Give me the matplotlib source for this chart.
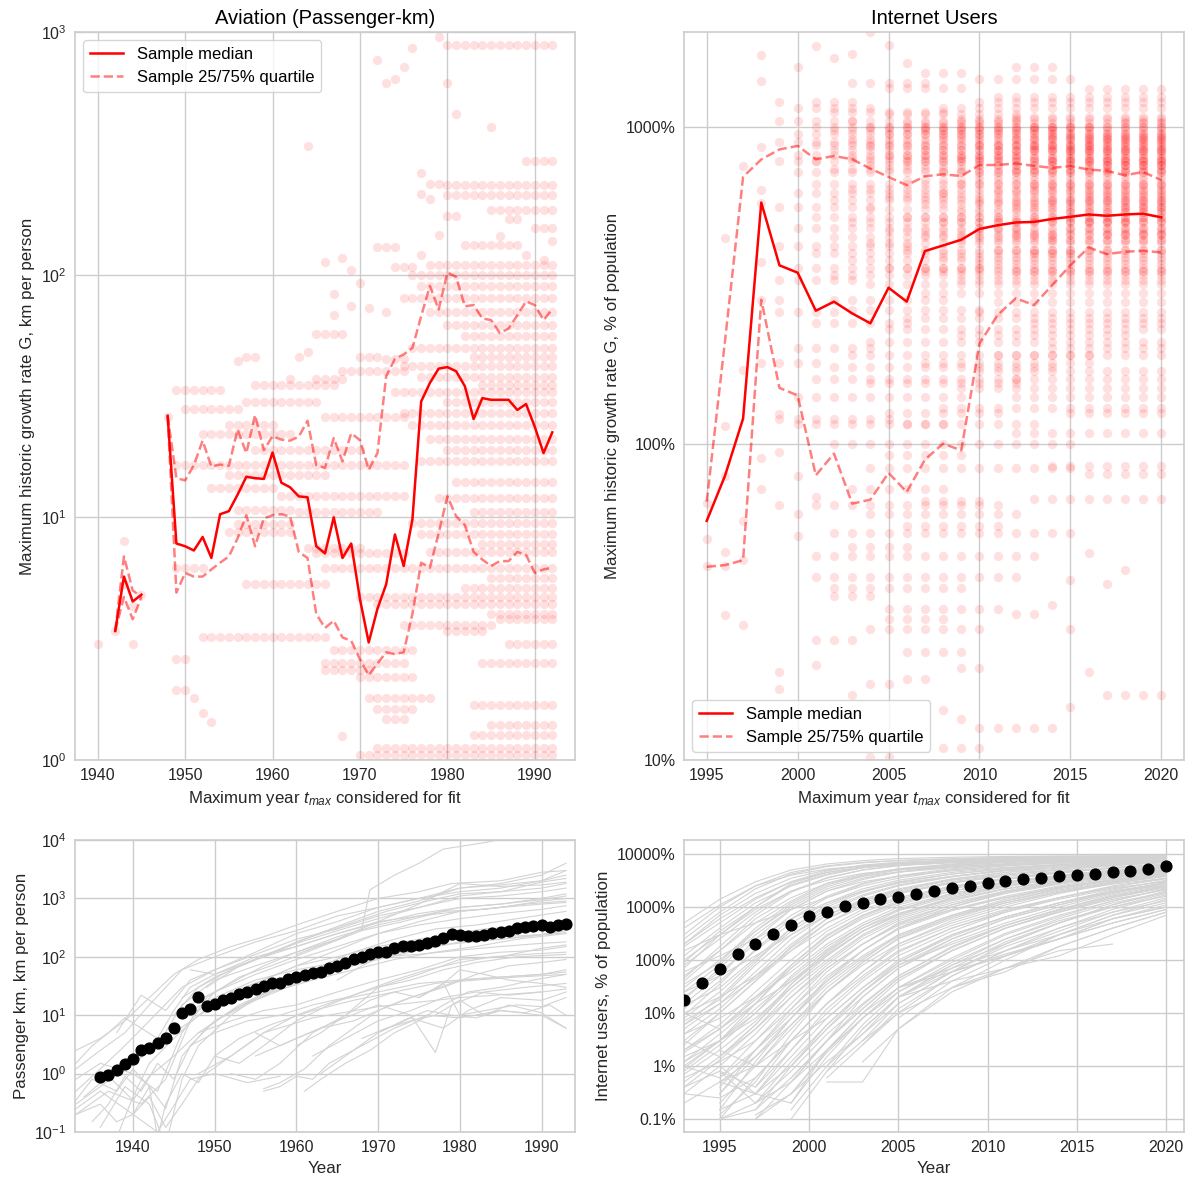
import numpy as np
import matplotlib
matplotlib.use("Agg")
import matplotlib.pyplot as plt
from matplotlib.ticker import FuncFormatter

nan = np.nan

# ---------------- top left: aviation, max growth rate vs t_max ----------------
av_years = list(range(1942, 1993))
av_median = [3.4, 5.7, 4.5, 4.8, nan, nan, 26.2, 7.8, 7.6, 7.3, 8.3, 6.8, 10.3, 10.6, 12.4, 14.7,
             14.5, 14.4, 18.5, 13.9, 13.3, 12.2, 12.1, 7.6, 7.1, 10.0, 6.8, 7.8, 4.6, 3.05, 4.2,
             5.3, 8.5, 6.3, 9.8, 30.0, 35.8, 41.0, 41.6, 40.0, 34.7, 25.4, 31.0, 30.5, 30.5, 30.5,
             27.7, 29.3, 23.6, 18.4, 22.4]
av_q75 = [3.4, 6.9, 5.0, 4.7, nan, nan, 26.2, 14.5, 14.2, 16.4, 20.7, 16.2, 16.5, 16.3, 23.0, 18.4,
          26.4, 18.9, 21.6, 20.9, 20.7, 21.5, 25.0, 16.4, 16.0, 21.2, 17.0, 22.2, 20.8, 15.7, 18.4,
          38.2, 45.0, 46.9, 49.9, 67.4, 90.0, 71.8, 102.0, 98.0, 74.0, 75.0, 66.0, 65.0, 57.5,
          60.0, 68.0, 77.6, 75.0, 65.0, 72.0]
av_q25 = [3.4, 4.7, 3.8, 4.7, nan, nan, 26.2, 4.9, 5.9, 5.7, 5.7, 6.1, 6.5, 6.9, 8.2, 10.2,
          7.6, 9.9, 10.2, 10.3, 10.1, 7.2, 6.8, 4.0, 3.5, 3.75, 3.2, 3.1, 2.6, 2.24, 2.5, 2.78,
          2.73, 2.78, 4.0, 6.5, 6.2, 8.6, 12.2, 10.1, 9.3, 7.2, 6.7, 6.3, 6.6, 6.6, 7.2, 7.0,
          5.9, 6.1, 6.2]

# runs of equal growth rate: (first t_max, last t_max, G)
av_tracks = [
    (1979, 1979, 950), (1980, 1992, 880), (1972, 1972, 770), (1973, 1973, 615), (1974, 1974, 640),
    (1975, 1975, 715), (1976, 1976, 860), (1980, 1980, 615), (1981, 1981, 460), (1985, 1985, 405),
    (1964, 1964, 340), (1977, 1977, 262), (1978, 1979, 236), (1980, 1992, 235), (1989, 1992, 295),
    (1977, 1977, 215), (1978, 1978, 205), (1980, 1992, 212), (1985, 1992, 185), (1987, 1988, 170),
    (1980, 1981, 175), (1990, 1992, 155), (1986, 1986, 145), (1972, 1974, 130), (1979, 1979, 146),
    (1982, 1988, 132), (1989, 1989, 120), (1991, 1991, 115), (1992, 1992, 138), (1966, 1966, 113),
    (1968, 1968, 117), (1969, 1969, 105), (1974, 1976, 108), (1977, 1977, 120), (1978, 1992, 110),
    (1967, 1967, 83), (1967, 1967, 68), (1970, 1970, 92), (1971, 1971, 73), (1969, 1969, 74),
    (1976, 1992, 100), (1977, 1992, 90), (1975, 1992, 80), (1973, 1973, 70), (1978, 1992, 70),
    (1980, 1992, 62), (1982, 1992, 56), (1976, 1992, 50), (1983, 1992, 46), (1975, 1992, 42),
    (1977, 1992, 38), (1984, 1992, 35), (1974, 1992, 33), (1980, 1992, 30),
    (1949, 1954, 33.5), (1956, 1956, 44), (1957, 1958, 46), (1962, 1962, 37), (1963, 1963, 46),
    (1964, 1964, 48), (1965, 1968, 57), (1965, 1968, 37), (1970, 1972, 46), (1973, 1975, 45),
    (1950, 1956, 28), (1955, 1960, 24), (1952, 1962, 22), (1958, 1970, 19), (1949, 1955, 16.4),
    (1956, 1975, 16.4), (1955, 1966, 15), (1953, 1960, 13.2), (1961, 1975, 12.2), (1956, 1962, 10.7),
    (1963, 1972, 10.5), (1956, 1962, 9.4), (1955, 1962, 8.7), (1964, 1970, 7.5), (1965, 1975, 7.1),
    (1957, 1965, 30), (1966, 1975, 26), (1958, 1967, 35), (1968, 1975, 40),
    (1949, 1952, 6.2), (1966, 1992, 6.2), (1957, 1966, 5.3), (1970, 1992, 4.7), (1972, 1992, 4.4),
    (1985, 1992, 4.0), (1980, 1984, 3.4), (1952, 1966, 3.2), (1940, 1940, 3.0), (1944, 1944, 3.0),
    (1967, 1976, 2.85), (1966, 1975, 2.5), (1984, 1992, 2.5), (1966, 1971, 2.35), (1970, 1976, 2.2),
    (1949, 1950, 2.6), (1949, 1950, 1.95), (1951, 1951, 1.8), (1952, 1952, 1.56), (1953, 1953, 1.44),
    (1971, 1978, 1.8), (1972, 1976, 1.63), (1973, 1975, 1.48), (1983, 1992, 1.69), (1985, 1992, 1.4),
    (1983, 1992, 1.27), (1972, 1992, 1.12), (1970, 1992, 1.05), (1968, 1968, 1.25), (1943, 1943, 8.0),
    (1943, 1943, 5.3), (1942, 1942, 3.4), (1945, 1945, 4.8), (1944, 1944, 4.3), (1948, 1948, 26),
    (1975, 1992, 27), (1976, 1992, 24), (1978, 1992, 21), (1980, 1992, 19), (1977, 1992, 17),
    (1981, 1992, 14), (1979, 1992, 12), (1983, 1992, 10.5), (1976, 1992, 9.5), (1977, 1992, 8.5),
    (1984, 1992, 7.8), (1978, 1992, 7.2), (1985, 1992, 5.6), (1982, 1992, 5.1), (1986, 1992, 3.8),
    (1987, 1992, 3.0), (1975, 1985, 3.6),
]

# ---------------- top right: internet users, max growth rate vs t_max ----------------
net_years = list(range(1995, 2021))
net_median = [57, 79, 120, 578, 366, 347, 263, 281, 258, 240, 311, 281, 406, 423, 441, 477, 490,
              500, 502, 513, 521, 530, 525, 530, 533, 519]
net_q75 = [65.5, 210, 697, 791, 851, 873, 792, 811, 792, 740, 696, 656, 700, 710, 701, 759, 760,
           768, 755, 744, 754, 735, 728, 705, 722, 681]
net_q25 = [40.8, 41.3, 42.8, 285, 150, 142, 79.4, 93, 64.6, 66.5, 80.8, 70.3, 89, 100, 95.2, 207,
           255, 288, 274, 317, 366, 417, 397, 404, 407, 402]

net_tracks = [
    # early years
    (1995, 1995, 65), (1995, 1995, 50), (1995, 1996, 41), (1996, 1996, 45.5), (1996, 1996, 28.7),
    (1996, 1996, 79), (1996, 1996, 114), (1996, 1996, 448), (1997, 1997, 57), (1997, 1997, 42.8),
    (1997, 1997, 26.8), (1997, 1997, 171), (1997, 1997, 755), (1998, 1998, 90), (1998, 1998, 72),
    (1998, 1998, 376), (1998, 1998, 578), (1998, 1998, 632), (1998, 1998, 867), (1998, 1999, 285),
    (1999, 1999, 124), (1999, 1999, 94), (1999, 1999, 64), (1999, 1999, 19), (1999, 1999, 16.8),
    (2000, 2000, 79), (2000, 2000, 60), (2000, 2000, 51), (2001, 2001, 68),
    # low band
    (2001, 2001, 20), (2004, 2005, 17.4), (2006, 2007, 18), (2009, 2010, 19.5), (2003, 2003, 16),
    (2004, 2005, 10.2), (2008, 2010, 10.9), (2010, 2014, 12.6), (2008, 2008, 14.4), (2009, 2009, 13.5),
    (2017, 2020, 16), (2016, 2016, 19), (2001, 2003, 24), (2004, 2010, 26), (2005, 2008, 28),
    (2005, 2011, 30), (2012, 2013, 29), (2001, 2012, 38), (2001, 2013, 44), (2002, 2015, 52),
    (2004, 2012, 60), (2001, 2011, 64), (2007, 2010, 66), (2013, 2020, 67), (2004, 2015, 84),
    (2014, 2020, 85), (2016, 2020, 80), (2002, 2015, 100), (2012, 2020, 108), (2000, 2008, 115),
    (2016, 2016, 45), (2017, 2017, 36), (2018, 2018, 40), (2015, 2015, 37), (2015, 2015, 26),
    (2015, 2015, 14.7), (2014, 2014, 31), (2003, 2006, 47), (2002, 2009, 35), (2006, 2009, 22),
    (2003, 2008, 72), (2005, 2009, 92), (2002, 2004, 33), (2006, 2011, 55),
    # 100 - 300
    (1999, 2005, 120), (2000, 2009, 140), (2001, 2012, 160), (2002, 2014, 175), (2003, 2016, 190),
    (2004, 2020, 210), (2005, 2020, 230), (2006, 2020, 250), (2003, 2010, 265), (2002, 2008, 285),
    (2007, 2020, 300), (2008, 2020, 130), (2009, 2020, 150), (2010, 2020, 170), (2011, 2020, 190),
    (2012, 2020, 140), (2006, 2013, 115), (2005, 2011, 125), (2000, 2004, 200), (2001, 2006, 240),
    (2004, 2012, 155), (2007, 2016, 180), (2009, 2018, 220), (2010, 2020, 260), (2011, 2020, 280),
    (2013, 2020, 240), (2014, 2020, 200), (2012, 2020, 160), (2015, 2020, 125), (1998, 2001, 180),
    (1999, 2002, 260),
    # 300 - 700
    (1999, 2003, 330), (1999, 2006, 420), (1999, 2004, 560), (2000, 2010, 360), (2000, 2012, 480),
    (2000, 2008, 620), (2001, 2015, 400), (2001, 2011, 520), (2001, 2020, 660), (2002, 2020, 340),
    (2002, 2014, 450), (2002, 2020, 590), (2003, 2020, 380), (2003, 2018, 500), (2003, 2020, 640),
    (2004, 2020, 320), (2004, 2020, 430), (2004, 2020, 550), (2005, 2020, 360), (2005, 2020, 470),
    (2005, 2020, 600), (2006, 2020, 410), (2006, 2020, 520), (2006, 2020, 680), (2007, 2020, 350),
    (2007, 2020, 455), (2007, 2020, 570), (2008, 2020, 390), (2008, 2020, 500), (2008, 2020, 620),
    (2009, 2020, 330), (2009, 2020, 440), (2009, 2020, 540), (2009, 2020, 660), (2010, 2020, 370),
    (2010, 2020, 480), (2010, 2020, 580), (2010, 2020, 700), (2011, 2020, 410), (2011, 2020, 510),
    (2011, 2020, 630), (2012, 2020, 350), (2012, 2020, 460), (2012, 2020, 560), (2013, 2020, 400),
    (2013, 2020, 520), (2013, 2020, 650), (2014, 2020, 440), (2014, 2020, 590), (2015, 2020, 480),
    (2015, 2020, 540), (2016, 2020, 500), (2016, 2020, 610), (2017, 2020, 460), (2018, 2020, 560),
    # 700 - 1300
    (1999, 2001, 780), (1999, 2005, 900), (1999, 2003, 1050), (1999, 1999, 1200), (2000, 2020, 720),
    (2000, 2012, 820), (2000, 2010, 950), (2000, 2004, 1150), (2001, 2020, 780), (2001, 2016, 880),
    (2001, 2009, 1000), (2001, 2003, 1200), (2002, 2020, 740), (2002, 2020, 850), (2002, 2014, 980),
    (2002, 2008, 1120), (2003, 2020, 800), (2003, 2020, 920), (2003, 2012, 1050), (2004, 2020, 760),
    (2004, 2020, 870), (2004, 2016, 1000), (2005, 2020, 820), (2005, 2020, 950), (2005, 2012, 1100),
    (2006, 2020, 780), (2006, 2020, 900), (2006, 2020, 1030), (2007, 2020, 850), (2007, 2020, 980),
    (2008, 2020, 720), (2008, 2020, 930), (2008, 2020, 1150), (2009, 2020, 800), (2009, 2020, 1060),
    (2010, 2020, 760), (2010, 2020, 880), (2010, 2020, 1000), (2010, 2020, 1200), (2011, 2020, 840),
    (2011, 2020, 960), (2012, 2020, 730), (2012, 2020, 920), (2012, 2020, 1080), (2013, 2020, 860),
    (2013, 2020, 1000), (2014, 2020, 780), (2014, 2020, 940), (2015, 2020, 830), (2016, 2020, 900),
    (2017, 2020, 760), (2018, 2020, 1040),
    # sparse top
    (1998, 1998, 1690), (1998, 1998, 1400), (2000, 2000, 1550), (2001, 2001, 1800), (2002, 2002, 1650),
    (2003, 2003, 1700), (2004, 2004, 2000), (2005, 2005, 1820), (2006, 2006, 1600), (2007, 2009, 1480),
    (2005, 2009, 1330), (2010, 2015, 1420), (2012, 2014, 1550), (2016, 2020, 1320), (2011, 2020, 1250),
    (2003, 2007, 1380),
]

# ---------------- bottom left: passenger km per person ----------------
av_med_years = list(range(1936, 1994))
av_med_vals = [0.88, 0.94, 1.17, 1.45, 1.8, 2.5, 2.7, 3.3, 4.0, 6.1, 11, 13, 20.6, 14.5, 15.8, 18,
               19.8, 22.9, 25.1, 28.6, 31.8, 34.9, 36.3, 40.9, 45.4, 47.9, 51.8, 55.3, 64.8, 70,
               78.9, 91.2, 100, 110, 119, 122, 139, 152, 152, 158, 169, 188, 212, 241, 235, 229,
               229, 235, 251, 265, 279, 306, 327, 336, 349, 327, 349, 358]

av_country_lines = [
    ([1933, 1936, 1939, 1942, 1945, 1948, 1952, 1956, 1960, 1965, 1970, 1975, 1979, 1985, 1990, 1993],
     [2.5, 4, 8, 20, 50, 90, 150, 220, 350, 600, 1000, 1300, 1800, 2000, 2800, 3000]),
    ([1933, 1936, 1939, 1942, 1946, 1950, 1955, 1960, 1965, 1970, 1975, 1980, 1985, 1990, 1993],
     [1.2, 2.5, 5, 15, 60, 100, 180, 280, 500, 700, 1000, 1500, 1700, 2000, 2500]),
    ([1933, 1936, 1939, 1942, 1946, 1950, 1955, 1960, 1965, 1970, 1975, 1980, 1985, 1990, 1993],
     [0.5, 1.2, 3, 8, 30, 60, 110, 200, 300, 500, 700, 1000, 1100, 1300, 1500]),
    ([1933, 1936, 1940, 1943, 1946, 1950, 1955, 1960, 1965, 1970, 1975, 1980, 1985, 1990, 1993],
     [0.3, 0.6, 1.5, 3, 15, 40, 70, 120, 220, 350, 500, 700, 800, 1000, 1200]),
    ([1933, 1936, 1940, 1943, 1946, 1949, 1953, 1958, 1963, 1968, 1973, 1978, 1983, 1988, 1993],
     [0.8, 1.5, 1, 0.5, 5, 20, 45, 80, 150, 280, 400, 600, 650, 800, 900]),
    ([1933, 1937, 1941, 1944, 1947, 1950, 1955, 1960, 1965, 1970, 1975, 1980, 1985, 1990, 1993],
     [0.2, 0.5, 0.3, 0.8, 8, 25, 50, 90, 150, 250, 350, 450, 550, 650, 750]),
    ([1936, 1939, 1942, 1944, 1946, 1948, 1952, 1957, 1962, 1967, 1972, 1977, 1982, 1987, 1993],
     [0.12, 0.6, 0.3, 0.06, 0.8, 3, 10, 30, 60, 120, 200, 300, 350, 450, 600]),
    ([1938, 1940, 1942, 1945, 1948, 1952, 1956, 1960, 1965, 1970, 1975, 1980, 1985, 1990, 1993],
     [0.08, 0.4, 1.5, 4, 10, 25, 40, 70, 100, 150, 200, 250, 280, 350, 400]),
    ([1934, 1937, 1940, 1942, 1945, 1948, 1952, 1956, 1960, 1965, 1970, 1975, 1980, 1985, 1990, 1993],
     [0.4, 0.9, 0.35, 0.9, 2, 5, 8, 12, 15, 25, 40, 60, 100, 120, 130, 150]),
    ([1933, 1936, 1940, 1943, 1947, 1950, 1954, 1958],
     [0.25, 0.5, 0.2, 0.1, 0.8, 1, 0.7, 0.9]),
    ([1956, 1958, 1961, 1964, 1967, 1970, 1974, 1978, 1982, 1986, 1990, 1993],
     [0.55, 0.7, 1.2, 3, 6, 12, 20, 30, 50, 70, 80, 90]),
    ([1961, 1963, 1966, 1969, 1972, 1975, 1978, 1981, 1985, 1989, 1993],
     [0.5, 0.8, 1.5, 2.5, 5, 8, 15, 25, 30, 40, 50]),
    ([1955, 1958, 1960, 1963, 1967, 1970, 1973, 1976, 1980, 1985, 1990, 1993],
     [5, 3, 4, 6, 8, 12, 18, 25, 40, 45, 50, 60]),
    ([1950, 1953, 1956, 1960, 1964, 1968, 1972, 1976, 1980, 1984, 1988, 1993],
     [2, 1.5, 3, 8, 15, 25, 40, 60, 80, 100, 110, 120]),
    ([1955, 1960, 1965, 1970, 1974, 1977, 1979, 1983, 1988, 1993],
     [2, 4, 8, 15, 10, 2.3, 15, 25, 30, 35]),
    ([1948, 1952, 1956, 1960, 1965, 1970, 1975, 1980, 1985, 1990, 1993],
     [1, 2, 5, 10, 18, 25, 35, 40, 45, 50, 55]),
    ([1947, 1950, 1954, 1958, 1962, 1966, 1970, 1974, 1978, 1982, 1987, 1993],
     [3, 5, 8, 10, 15, 20, 30, 40, 60, 80, 100, 110]),
    ([1960, 1963, 1966, 1969, 1972, 1975, 1978, 1980, 1983, 1987, 1990, 1993],
     [3, 5, 10, 18, 25, 20, 35, 10, 12, 15, 14, 20]),
    ([1968, 1971, 1974, 1977, 1980, 1983, 1986, 1990, 1993],
     [4, 6, 8, 10, 18, 10, 15, 11, 6]),
    ([1962, 1966, 1970, 1974, 1978, 1982, 1986, 1990, 1993],
     [2, 4, 8, 12, 20, 25, 22, 25, 28]),
    ([1946, 1950, 1955, 1960, 1965, 1970, 1975, 1980, 1985, 1990, 1993],
     [10, 20, 40, 60, 80, 100, 110, 130, 150, 170, 180]),
    ([1948, 1952, 1957, 1962, 1967, 1972, 1977, 1982, 1987, 1993],
     [5, 12, 25, 40, 60, 90, 120, 150, 200, 250]),
    ([1950, 1955, 1960, 1965, 1970, 1975, 1980, 1985, 1990, 1993],
     [8, 20, 45, 80, 120, 160, 200, 220, 240, 300]),
    ([1945, 1948, 1952, 1956, 1960, 1965, 1970, 1975, 1980, 1985, 1990, 1993],
     [10, 30, 60, 100, 180, 330, 600, 900, 1500, 1800, 2500, 4000]),
    ([1946, 1950, 1955, 1960, 1965, 1970, 1975, 1980, 1985, 1990, 1993],
     [20, 45, 90, 170, 280, 450, 700, 1100, 1300, 1900, 2200]),
    ([1947, 1951, 1956, 1960, 1965, 1970, 1975, 1980, 1985, 1990, 1993],
     [15, 30, 70, 120, 200, 400, 800, 1800, 1600, 1700, 1900]),
    ([1949, 1953, 1957, 1961, 1966, 1971, 1976, 1980, 1985, 1990, 1993],
     [30, 70, 120, 200, 350, 600, 900, 1200, 1300, 1500, 1800]),
    ([1945, 1950, 1955, 1960, 1965, 1970, 1975, 1980, 1985, 1990, 1993],
     [5, 15, 35, 70, 130, 250, 400, 600, 700, 900, 1000]),
    ([1938, 1941, 1944, 1947, 1950, 1955, 1960, 1965, 1970, 1975, 1980, 1985, 1990, 1993],
     [5, 22, 12, 40, 60, 120, 250, 400, 700, 1000, 1300, 1500, 2000, 3000]),
    ([1947, 1950, 1955, 1960, 1965, 1970, 1975, 1980, 1985, 1990, 1993],
     [60, 50, 100, 150, 250, 400, 500, 600, 700, 800, 850]),
    ([1960, 1965, 1968, 1969, 1972, 1975, 1978, 1983, 1986],
     [110, 200, 300, 1400, 2500, 4000, 7000, 9000, 11000]),
    ([1956, 1958, 1960, 1962, 1964, 1968, 1972, 1976, 1980, 1985, 1990, 1993],
     [0.5, 0.6, 0.9, 0.8, 1.5, 3, 6, 10, 9, 12, 10, 6]),
    ([1963, 1966, 1970, 1974, 1978, 1981, 1985, 1990, 1993],
     [1, 2, 5, 9, 6, 12, 20, 18, 25]),
    ([1952, 1955, 1958, 1962, 1966, 1970, 1975, 1980, 1985, 1990, 1993],
     [1, 0.8, 1.5, 5, 10, 30, 50, 90, 100, 140, 160]),
    ([1933, 1935, 1937, 1939, 1941, 1943, 1945, 1947, 1950, 1955, 1960, 1965, 1970, 1975, 1980, 1985, 1990, 1993],
     [1.5, 3, 5, 9, 6, 4, 12, 30, 50, 90, 150, 250, 380, 550, 700, 800, 950, 1100]),
    ([1933, 1935, 1938, 1940, 1942, 1944, 1946, 1949, 1953, 1958, 1963, 1968, 1973, 1978, 1983, 1988, 1993],
     [0.35, 0.8, 0.5, 1.2, 0.6, 0.25, 2, 6, 15, 30, 50, 80, 120, 160, 190, 220, 260]),
    ([1935, 1937, 1939, 1941, 1943, 1945, 1947, 1950, 1955, 1960, 1965, 1970, 1975, 1980, 1985, 1990, 1993],
     [0.15, 0.3, 0.9, 0.5, 1.5, 0.8, 3, 8, 18, 35, 60, 90, 130, 180, 200, 240, 280]),
    ([1933, 1936, 1938, 1940, 1942, 1944, 1946, 1948, 1952, 1956, 1962, 1970, 1980, 1990],
     [0.2, 0.3, 0.15, 0.2, 0.4, 0.12, 0.3, 0.8, 2, 5, 9, 14, 20, 25]),
    ([1940, 1942, 1943, 1944, 1946, 1948, 1950, 1953, 1957, 1962, 1967, 1972, 1977, 1982, 1987, 1993],
     [0.2, 0.6, 0.08, 0.3, 1, 0.7, 2, 4, 7, 12, 18, 25, 35, 40, 45, 50]),
    ([1965, 1968, 1971, 1974, 1977, 1980, 1983, 1986, 1990, 1993],
     [40, 70, 110, 150, 200, 260, 300, 320, 350, 380]),
    ([1975, 1978, 1980, 1983, 1986, 1990, 1993],
     [20, 35, 60, 50, 40, 35, 30]),
    ([1970, 1973, 1976, 1979, 1982, 1985, 1988, 1991, 1993],
     [5, 8, 12, 10, 9, 12, 11, 15, 10]),
]

# ---------------- bottom right: internet users ----------------
net_med_years = list(range(1993, 2021))
net_med_vals = [17.9, 36.3, 68.6, 131, 200, 310, 458, 666, 817, 1045, 1208, 1397, 1546, 1734, 2033,
                2250, 2528, 2838, 3140, 3326, 3524, 3791, 3955, 4256, 4510, 4779, 5210, 5940]

net_line_years = [1993, 1995, 1997, 1999, 2001, 2003, 2005, 2008, 2011, 2014, 2017, 2020]
net_country_lines = [
    [300, 1000, 2500, 4500, 6000, 7000, 7500, 8000, 8500, 8800, 9000, 9200],
    [200, 700, 1800, 3500, 5000, 6000, 6800, 7500, 8000, 8500, 8800, 9000],
    [120, 400, 1200, 2500, 4000, 5500, 6500, 7200, 7800, 8200, 8600, 8900],
    [80, 250, 800, 2000, 3500, 5000, 6000, 7000, 7600, 8000, 8400, 8800],
    [50, 150, 500, 1300, 2800, 4200, 5200, 6300, 7000, 7600, 8100, 8500],
    [30, 100, 350, 1000, 2200, 3500, 4500, 5800, 6600, 7300, 7800, 8300],
    [20, 60, 200, 700, 1600, 2800, 3800, 5000, 6000, 6800, 7500, 8000],
    [12, 40, 150, 500, 1200, 2200, 3200, 4500, 5500, 6400, 7200, 7800],
    [8, 25, 100, 350, 900, 1700, 2600, 3800, 5000, 6000, 6800, 7500],
    [5, 15, 60, 250, 700, 1400, 2200, 3400, 4500, 5500, 6500, 7200],
    [3, 10, 40, 150, 500, 1000, 1800, 2800, 4000, 5000, 6000, 7000],
    [2, 6, 25, 100, 350, 800, 1400, 2400, 3500, 4500, 5500, 6500],
    [1.2, 4, 15, 70, 250, 600, 1100, 2000, 3000, 4000, 5000, 6000],
    [0.8, 2.5, 10, 50, 180, 450, 900, 1700, 2600, 3600, 4600, 5600],
    [0.5, 1.5, 6, 30, 120, 350, 700, 1400, 2200, 3200, 4200, 5200],
    [0.3, 1, 4, 20, 80, 250, 550, 1100, 1900, 2800, 3800, 4800],
    [150, 300, 500, 900, 1500, 2500, 3500, 5000, 6000, 6800, 7500, 8000],
    [60, 120, 250, 600, 1200, 2000, 3000, 4200, 5200, 6000, 6800, 7400],
    [25, 50, 120, 300, 700, 1300, 2000, 3200, 4200, 5200, 6200, 7000],
    [10, 20, 50, 150, 400, 900, 1500, 2500, 3500, 4500, 5500, 6200],
    [4, 8, 20, 60, 200, 500, 1000, 1800, 2800, 3800, 4800, 5800],
    [1.5, 3, 8, 30, 100, 300, 650, 1300, 2200, 3200, 4200, 5000],
    [0.6, 1.2, 3, 12, 50, 150, 400, 900, 1600, 2500, 3500, 4500],
    [nan, 0.4, 2, 10, 40, 120, 300, 700, 1300, 2200, 3200, 4200],
    [nan, 0.2, 1, 5, 25, 80, 200, 500, 1000, 1800, 2800, 3800],
    [nan, 0.1, 0.6, 3, 15, 50, 150, 400, 800, 1500, 2500, 3500],
    [nan, 0.15, 0.3, 1.5, 8, 30, 100, 300, 650, 1200, 2100, 3200],
    [nan, nan, 0.15, 1, 5, 20, 70, 220, 500, 1000, 1800, 2800],
    [nan, nan, 0.1, 0.5, 3, 12, 45, 150, 400, 800, 1500, 2500],
    [nan, nan, nan, 0.2, 1.5, 8, 30, 100, 300, 650, 1300, 2200],
    [nan, nan, nan, 0.1, 0.8, 5, 20, 70, 220, 500, 1100, 2000],
    [nan, nan, nan, nan, 0.6, 2.5, 12, 50, 150, 400, 900, 1700],
    [nan, nan, nan, nan, nan, 2.5, 10, 30, 100, 300, 700, 1400],
    [nan, nan, nan, nan, 0.5, 0.5, 5, 25, 70, nan, nan, nan],
    [nan, nan, nan, nan, nan, nan, 20, 40, 70, 150, 200, nan],
    [nan, 1, 0.3, 0.2, 2, 10, 30, 60, 120, 250, 600, 1000],
    [nan, 0.5, 0.3, 1, 5, 25, 80, 200, 450, 900, 1600, 2400],
    [0.4, 0.8, 0.2, 0.5, 2, 8, 25, 80, 200, 500, 1000, 1800],
    [nan, 0.1, 0.2, 0.8, 4, 15, 50, 180, 450, 900, 1700, 2600],
    [nan, nan, 0.1, 0.3, 1.2, 4, 15, 60, 200, 500, 1100, 1900],
    [200, 600, 1500, 3000, 4500, 5500, 6200, 6800, 7200, 7500, 7800, 8000],
    [100, 300, 900, 2000, 3200, 4300, 5000, 5800, 6400, 6900, 7300, 7600],
    [40, 150, 600, 1500, 2800, 3800, 4600, 5500, 6200, 6800, 7300, 7700],
    [15, 50, 250, 900, 2000, 3000, 3800, 4800, 5600, 6300, 6900, 7400],
    [6, 20, 90, 400, 1100, 2000, 2800, 3800, 4800, 5600, 6300, 6900],
    [2.5, 10, 40, 180, 600, 1200, 1900, 2900, 3800, 4700, 5600, 6300],
    [1, 3, 15, 80, 300, 700, 1200, 2000, 2900, 3800, 4700, 5500],
    [nan, 1.5, 6, 35, 150, 400, 750, 1400, 2200, 3000, 3900, 4800],
    [nan, 0.6, 3, 15, 70, 200, 450, 900, 1500, 2300, 3100, 4000],
    [nan, 0.3, 1.5, 8, 35, 110, 280, 650, 1200, 1900, 2700, 3500],
    [nan, nan, 0.4, 3, 15, 60, 180, 450, 900, 1500, 2300, 3000],
    [nan, nan, nan, 1, 6, 25, 90, 300, 650, 1200, 1900, 2600],
    [nan, nan, nan, 0.5, 3, 12, 45, 150, 400, 800, 1400, 2100],
    [nan, nan, nan, nan, 1, 6, 25, 90, 250, 550, 1000, 1600],
    [nan, nan, nan, nan, nan, 3, 15, 60, 180, 400, 800, 1300],
    [nan, nan, nan, nan, nan, nan, 8, 40, 120, 300, 600, 1000],
    [nan, nan, nan, nan, nan, nan, nan, 30, 60, 180, 400, 800],
    [nan, nan, nan, nan, nan, nan, nan, nan, 70, 120, 300, 700],
    [nan, nan, nan, nan, nan, 1.2, 5, 30, 70, 180, 400, 800],
    [250, 800, 2200, 4200, 5800, 6800, 7600, 8200, 8700, 9000, 9100, 9300],
    [180, 500, 1400, 3000, 4800, 6200, 7000, 7700, 8200, 8600, 8900, 9100],
    [90, 350, 1000, 2600, 4200, 5600, 6600, 7400, 8000, 8400, 8700, 9000],
    [45, 180, 700, 1900, 3600, 5000, 6100, 7000, 7700, 8100, 8500, 8800],
    [35, 90, 400, 1200, 2600, 4000, 5300, 6500, 7300, 7900, 8300, 8700],
    [18, 70, 300, 900, 2000, 3300, 4600, 6000, 7000, 7700, 8200, 8600],
    [9, 35, 160, 600, 1500, 2700, 3900, 5300, 6400, 7200, 7800, 8300],
    [7, 18, 80, 300, 800, 1600, 2500, 3700, 4900, 6000, 7000, 7800],
    [4, 12, 50, 200, 600, 1300, 2100, 3300, 4500, 5600, 6600, 7400],
    [2, 5, 18, 70, 250, 650, 1200, 2200, 3300, 4400, 5400, 6300],
    [1.2, 3, 12, 45, 160, 450, 900, 1800, 2800, 3900, 4900, 5900],
    [0.7, 2, 7, 35, 130, 350, 750, 1500, 2500, 3500, 4500, 5400],
    [0.4, 1.3, 5, 25, 90, 280, 600, 1200, 2000, 3000, 4000, 5000],
    [nan, 0.3, 2, 12, 60, 200, 480, 1000, 1800, 2700, 3600, 4600],
    [nan, 0.15, 1.2, 8, 45, 150, 380, 850, 1500, 2400, 3300, 4300],
    [nan, 0.12, 0.5, 4, 25, 90, 250, 600, 1200, 2000, 2900, 3900],
    [nan, nan, 0.3, 2, 12, 45, 140, 400, 850, 1500, 2400, 3400],
    [nan, nan, 0.2, 1.2, 6, 25, 80, 250, 600, 1100, 1900, 2900],
    [nan, nan, nan, 0.6, 3, 14, 50, 170, 450, 900, 1600, 2500],
    [nan, nan, nan, 0.3, 1.8, 8, 30, 110, 320, 700, 1300, 2200],
    [1, 0.6, 2, 8, 40, 150, 400, 1000, 1900, 2900, 3900, 4900],
    [0.3, 0.25, 0.6, 3, 15, 60, 200, 550, 1100, 1900, 2900, 3800],
    [nan, 0.8, 0.4, 2, 10, 40, 120, 350, 800, 1400, 2200, 3100],
    [nan, 2, 1, 3, 8, 30, 90, 280, 650, 1200, 2000, 2900],
    [10, 5, 15, 40, 120, 350, 700, 1500, 2400, 3400, 4400, 5400],
    [3, 1.5, 5, 20, 70, 200, 500, 1100, 2000, 3000, 4000, 5000],
    [0.2, 0.5, 1, 6, 30, 100, 300, 700, 1400, 2300, 3300, 4300],
    [nan, 0.1, 0.15, 0.6, 3, 20, 70, 250, 600, 1100, 1900, 2800],
    [nan, nan, 0.12, 0.3, 2, 10, 40, 150, 400, 850, 1500, 2300],
    [nan, nan, nan, 0.15, 1, 4, 20, 80, 250, 600, 1200, 1900],
    [nan, nan, nan, nan, 0.8, 3, 10, 50, 150, 350, 800, 1500],
    [nan, nan, nan, nan, nan, 5, 20, 60, 120, 250, 500, 900],
    [nan, nan, nan, nan, nan, nan, 30, 70, 150, 300, 700, 1200],
    [nan, nan, nan, nan, nan, nan, nan, 60, 130, 250, 500, 900],
    [nan, nan, nan, nan, nan, nan, nan, nan, 120, 250, 600, 1100],
    [500, 1400, 3000, 5000, 6500, 7500, 8200, 8700, 9000, 9200, 9300, 9400],
    [400, 1100, 2500, 4000, 5200, 6000, 6600, 7100, 7500, 7800, 8000, 8200],
    [70, 300, 1000, 2800, 4500, 5800, 6700, 7500, 8100, 8500, 8800, 9100],
    [25, 80, 350, 1100, 2400, 3800, 5000, 6200, 7000, 7600, 8000, 8400],
    [14, 30, 110, 400, 1000, 1900, 2900, 4200, 5300, 6200, 7000, 7600],
    [6, 15, 45, 170, 500, 1100, 1800, 3000, 4100, 5100, 6100, 7000],
    [1.8, 5, 20, 80, 280, 700, 1300, 2300, 3400, 4400, 5400, 6200],
    [0.9, 3, 10, 40, 140, 400, 850, 1600, 2600, 3600, 4600, 5600],
    [nan, 0.5, 1.5, 6, 25, 90, 260, 650, 1300, 2100, 3000, 4000],
]


def expand(tracks):
    xs, ys = [], []
    for y0, y1, g in tracks:
        for t in range(y0, y1 + 1):
            xs.append(t)
            ys.append(g)
    return xs, ys


plt.rcParams.update({
    "font.family": ["Liberation Sans", "DejaVu Sans"],
    "mathtext.fontset": "custom",
    "mathtext.rm": "Liberation Sans",
    "mathtext.it": "Liberation Sans:italic",
    "axes.edgecolor": "#cccccc",
    "axes.linewidth": 1.2,
    "grid.color": "#cccccc",
    "grid.linewidth": 1.0,
    "xtick.color": "#262626",
    "ytick.color": "#262626",
    "axes.labelcolor": "#262626",
    "xtick.major.size": 0, "ytick.major.size": 0,
    "xtick.minor.size": 0, "ytick.minor.size": 0,
    "xtick.major.pad": 6, "ytick.major.pad": 6,
    "xtick.labelsize": 11.5, "ytick.labelsize": 11.5,
    "axes.labelsize": 12.2,
    "legend.fontsize": 12,
    "legend.edgecolor": "#cccccc",
})

W, H = 1188, 1182
fig = plt.figure(figsize=(W / 100, H / 100), dpi=100)


def px_axes(x0, y0, x1, y1):
    return fig.add_axes([x0 / W, 1 - y1 / H, (x1 - x0) / W, (y1 - y0) / H])


ax1 = px_axes(75, 32, 575, 760)
ax2 = px_axes(684, 32, 1184, 760)
ax3 = px_axes(75, 840, 575, 1132)
ax4 = px_axes(684, 840, 1184, 1132)

for ax in (ax1, ax2, ax3, ax4):
    ax.set_yscale("log")
    ax.grid(True, which="major")
    ax.set_axisbelow(True)

xlabel = "Maximum year $t_{max}$ considered for fit"
pct = FuncFormatter(lambda v, _: "{:g}%".format(v))

# top left
sx, sy = expand(av_tracks)
ax1.scatter(sx, sy, s=45, color="red", alpha=0.12, linewidths=0)
ax1.plot(av_years, av_median, color="red", lw=1.8, label="Sample median")
ax1.plot(av_years, av_q25, color="red", alpha=0.5, lw=1.8, ls="--", label="Sample 25/75% quartile")
ax1.plot(av_years, av_q75, color="red", alpha=0.5, lw=1.8, ls="--")
ax1.set_xlim(1937.4, 1994.6)
ax1.set_ylim(1, 1000)
ax1.set_title("Aviation (Passenger-km)", fontsize=14.5)
ax1.set_xlabel(xlabel)
ax1.set_ylabel("Maximum historic growth rate G, km per person")
ax1.legend(loc="upper left")

# top right
sx, sy = expand(net_tracks)
ax2.scatter(sx, sy, s=45, color="red", alpha=0.12, linewidths=0)
ax2.plot(net_years, net_median, color="red", lw=1.8, label="Sample median")
ax2.plot(net_years, net_q25, color="red", alpha=0.5, lw=1.8, ls="--", label="Sample 25/75% quartile")
ax2.plot(net_years, net_q75, color="red", alpha=0.5, lw=1.8, ls="--")
ax2.set_xlim(1993.75, 2021.25)
ax2.set_ylim(10, 2000)
ax2.yaxis.set_major_formatter(pct)
ax2.set_title("Internet Users", fontsize=14.5)
ax2.set_xlabel(xlabel)
ax2.set_ylabel("Maximum historic growth rate G, % of population")
ax2.legend(loc="lower left")

# bottom left
for yrs, vals in av_country_lines:
    ax3.plot(yrs, vals, color="lightgray", lw=0.8)
ax3.scatter(av_med_years, av_med_vals, s=60, color="black", zorder=3)
ax3.set_xlim(1932.9, 1994.1)
ax3.set_ylim(0.1, 1e4)
ax3.set_xlabel("Year")
ax3.set_ylabel("Passenger km, km per person")

# bottom right
for vals in net_country_lines:
    ax4.plot(net_line_years, vals, color="lightgray", lw=0.8)
ax4.scatter(net_med_years, net_med_vals, s=60, color="black", zorder=3)
ax4.set_xlim(1993, 2021)
ax4.set_ylim(0.057, 18400)
ax4.yaxis.set_major_formatter(pct)
ax4.set_xlabel("Year")
ax4.set_ylabel("Internet users, % of population")

fig.savefig("out.png", dpi=100)
